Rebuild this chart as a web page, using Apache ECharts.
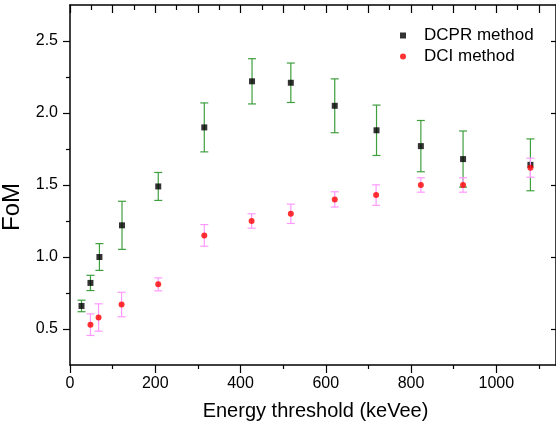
<!DOCTYPE html>
<html>
<head>
<meta charset="utf-8">
<script src="https://cdn.jsdelivr.net/npm/echarts@6/dist/echarts.min.js"></script>
<style>html,body{margin:0;padding:0;background:#fff}#c{width:556px;height:427px}</style>
</head>
<body>
<div id="c"></div>
<script>
// ---- data ----
const energyDCPR = [27, 48, 69, 122, 207, 315, 427, 518, 621, 719, 823, 922, 1080];
const fomDCPR    = [0.66, 0.82, 1.00, 1.22, 1.49, 1.90, 2.22, 2.21, 2.05, 1.88, 1.77, 1.68, 1.64];
const errDCPR    = [0.04, 0.053, 0.093, 0.167, 0.097, 0.17, 0.157, 0.137, 0.187, 0.175, 0.178, 0.195, 0.18];

const energyDCI = [48, 67, 121, 207, 315, 426, 518, 621, 718, 823, 922, 1080];
const fomDCI    = [0.53, 0.58, 0.67, 0.81, 1.15, 1.25, 1.30, 1.40, 1.43, 1.50, 1.50, 1.62];
const errDCI    = [0.075, 0.095, 0.085, 0.045, 0.075, 0.05, 0.067, 0.053, 0.071, 0.05, 0.05, 0.066];

// tick positions / labels
const xMajor = [0, 200, 400, 600, 800, 1000];
const xMinor = [100, 300, 500, 700, 900, 1100];
const xTopMajor = [0, 100, 200, 300, 400, 500, 600, 700, 800, 900, 1000, 1100];
const xTopMinor = [50, 150, 250, 350, 450, 550, 650, 750, 850, 950, 1050];
const yMajor = [0.5, 1.0, 1.5, 2.0, 2.5];
const yMinor = [0.75, 1.25, 1.75, 2.25];

const xRange = [0, 1140];
const yRange = [0.25, 2.75];

const FONT = 'Liberation Sans, Arial, sans-serif';

const dcprPts = energyDCPR.map((x, i) => [x, fomDCPR[i], errDCPR[i]]);
const dciPts  = energyDCI.map((x, i) => [x, fomDCI[i], errDCI[i]]);

function errRender(color) {
  return function (params, api) {
    const x = api.value(0), y = api.value(1), e = api.value(2);
    const top = api.coord([x, y + e]);
    const bot = api.coord([x, y - e]);
    const hw = 4;
    const st = { stroke: color, lineWidth: 1.2 };
    return {
      type: 'group',
      children: [
        { type: 'line', shape: { x1: top[0], y1: top[1], x2: bot[0], y2: bot[1] }, style: st },
        { type: 'line', shape: { x1: top[0] - hw, y1: top[1], x2: top[0] + hw, y2: top[1] }, style: st },
        { type: 'line', shape: { x1: bot[0] - hw, y1: bot[1], x2: bot[0] + hw, y2: bot[1] }, style: st }
      ]
    };
  };
}

function xAx(pos, ticks, len, inside, labels, line, extra) {
  return Object.assign({
    type: 'value', position: pos, min: xRange[0], max: xRange[1],
    axisLine: { show: line, onZero: false, lineStyle: { color: '#000', width: 1.5 } },
    axisTick: { show: true, inside: inside, length: len, customValues: ticks, lineStyle: { color: '#000', width: 1.2 } },
    axisLabel: labels ? { show: true, customValues: ticks, fontSize: 16, color: '#000', fontFamily: FONT, margin: 11,
      formatter: v => String(v) } : { show: false },
    splitLine: { show: false }
  }, extra || {});
}
function yAx(pos, ticks, len, inside, labels, line, extra) {
  return Object.assign({
    type: 'value', position: pos, min: yRange[0], max: yRange[1],
    axisLine: { show: line, onZero: false, lineStyle: { color: '#000', width: 1.5 } },
    axisTick: { show: true, inside: inside, length: len, customValues: ticks, lineStyle: { color: '#000', width: 1.2 } },
    axisLabel: labels ? { show: true, customValues: ticks, fontSize: 16, color: '#000', fontFamily: FONT, margin: 12,
      formatter: v => Number(v).toFixed(1) } : { show: false },
    splitLine: { show: false }
  }, extra || {});
}

const chart = echarts.init(document.getElementById('c'), null, { renderer: 'canvas' });
chart.setOption({
  animation: false,
  backgroundColor: '#fff',
  grid: { left: 70, right: 0, top: 5, bottom: 62, containLabel: false, outerBoundsMode: 'none' },
  xAxis: [
    xAx('bottom', xMajor, 8, false, true, true, {
      name: 'Energy threshold (keVee)', nameLocation: 'middle', nameGap: 36,
      nameTextStyle: { fontSize: 20, color: '#000', fontFamily: FONT, padding: [0, 0, 0, 5] }
    }),
    xAx('bottom', xMinor, 4, false, false, false),
    xAx('top', xTopMajor, 8, true, false, true),
    xAx('top', xTopMinor, 5, true, false, false)
  ],
  yAxis: [
    yAx('left', yMajor, 7, false, true, true, {
      name: 'FoM', nameLocation: 'middle', nameGap: 40,
      nameTextStyle: { fontSize: 24, color: '#000', fontFamily: FONT, padding: [0, 44, 0, 0] }
    }),
    yAx('left', yMinor, 4, false, false, false),
    yAx('right', yMajor, 5, true, false, true)
  ],
  legend: {
    orient: 'vertical', left: 400, top: 27, padding: 0,
    itemWidth: 6, itemHeight: 6, itemGap: 4,
    textStyle: { fontSize: 17, color: '#000', fontFamily: FONT, lineHeight: 17, padding: [0, 0, 0, 13] },
    data: ['DCPR method', 'DCI method']
  },
  series: [
    { type: 'custom', name: 'errDCPR', xAxisIndex: 0, yAxisIndex: 0, data: dcprPts,
      renderItem: errRender('#3f9f3f'), encode: { x: 0, y: [1] }, z: 1 },
    { type: 'scatter', name: 'DCPR method', xAxisIndex: 0, yAxisIndex: 0, symbol: 'rect', symbolSize: 6,
      itemStyle: { color: '#000' }, data: dcprPts.map(p => [p[0], p[1]]), z: 2 },
    { type: 'custom', name: 'errDCI', xAxisIndex: 0, yAxisIndex: 0, data: dciPts,
      renderItem: errRender('#ff99ff'), encode: { x: 0, y: [1] }, z: 3 },
    { type: 'scatter', name: 'DCI method', xAxisIndex: 0, yAxisIndex: 0, symbol: 'circle', symbolSize: 6,
      itemStyle: { color: '#ff0000' }, data: dciPts.map(p => [p[0], p[1]]), z: 4 }
  ]
});
</script>
</body>
</html>
